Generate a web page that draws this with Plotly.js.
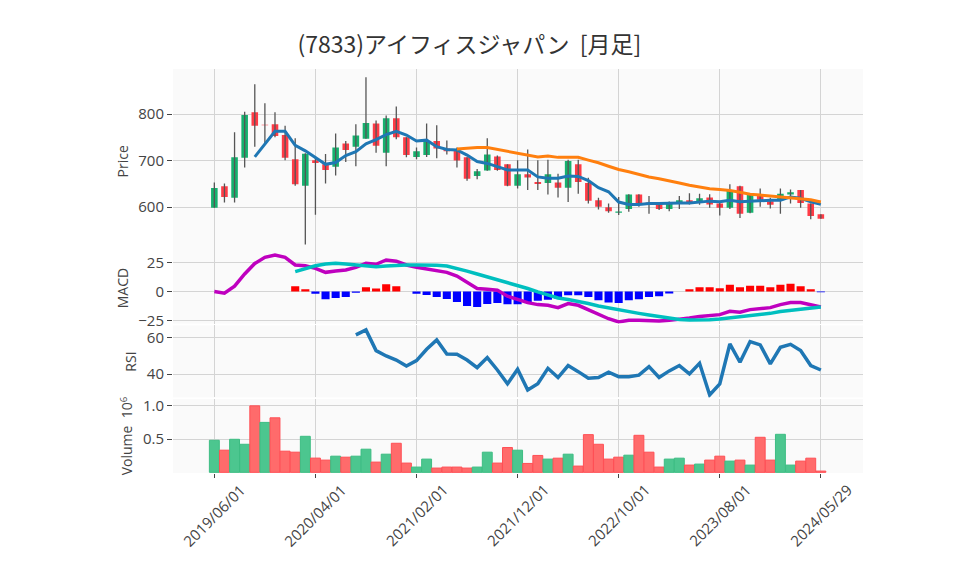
<!DOCTYPE html>
<html>
<head>
<meta charset="utf-8">
<script src="https://cdn.plot.ly/plotly-3.0.1.min.js"></script>
<style>html,body{margin:0;padding:0;background:#fff;}#chart{width:958px;height:575px;}</style>
</head>
<body>
<div id="chart"></div>
<script>
// ---- data ----
const tickIdx = [0, 10, 20, 30, 40, 50, 60];
const tickText = ['2019/06/01','2020/04/01','2021/02/01','2021/12/01','2022/10/01','2023/08/01','2024/05/29'];

const openP  = [599,645,620,706,804,777,778,755,703,646,701,692,687,737,730,747,780,717,791,750,708,712,742,726,723,707,667,679,709,692,646,671,654,652,653,642,692,652,615,600,588,596,627,610,606,596,609,615,612,621,608,599,645,588,628,613,615,627,637,608,585];
const highP  = [653,651,761,805,864,823,804,775,748,716,710,714,758,742,778,879,786,797,816,750,728,780,776,743,728,707,682,748,711,692,701,724,701,702,672,702,702,663,620,608,622,628,628,624,611,612,624,630,629,628,612,649,646,630,640,620,640,638,637,608,585];
const lowP   = [599,610,610,685,730,737,750,701,646,520,584,651,668,697,688,747,717,688,746,707,703,708,705,713,685,657,660,678,678,645,640,637,637,627,621,611,629,608,595,588,583,590,601,586,594,591,596,606,605,599,582,596,577,587,601,597,586,608,599,574,575];
const closeP = [641,622,707,798,775,776,753,706,649,715,695,680,728,723,754,781,732,791,750,712,720,742,726,720,700,661,677,713,680,646,671,664,650,671,642,699,654,614,601,591,590.5,627,608,606,596,611,615,609,619,606,599,635,586,628,616,605,629,632,609,581,575];

const ma5 = [null,null,null,null,708,736,763,763,733,721,707,692,696,711,719,736,745,756,763,755,742,744,730,724,723,712,698,694,687,680,680,680,665,662,662,667,666,657,642,633,611,606,606,608,608,609,609,609,611.5,613,611.5,615,611.5,613,615,615,615,622,619,611.5,606];
const ma25 = [null,null,null,null,null,null,null,null,null,null,null,null,null,null,null,null,null,null,null,null,null,null,null,null,725,727,728,728,724,719,715,711,708,710,707,707,707,701,695.5,688,681,676,670,665,661,657,652,647,643,639.5,638,636,632,628,626,624,622,621,619,616,611];

const macd = [0,-1.4,4.6,15,24,29.3,31.3,29.3,22.7,22,19.8,16.4,17.5,18.4,20.7,24.1,23.3,27,26,22.7,20.7,19.3,17.8,16.4,13.2,7.8,2.6,2,1.1,-4,-6.9,-9.5,-11.2,-11.8,-13.8,-10.3,-11.8,-15.5,-19.5,-23.3,-26.1,-24.7,-24.7,-25.3,-25.3,-24.7,-23.9,-22.7,-21.3,-20.4,-19.8,-17,-17.8,-15.5,-14.4,-13.8,-11.2,-9.5,-9.5,-11.2,-13.2];
const signal = [null,null,null,null,null,null,null,null,17,19.8,22,23.6,24.1,23.6,22.7,21.8,21.3,21.8,22.4,22.7,22.7,22.7,22.4,21.8,19.8,17.5,15,12.6,10.3,8,5.5,2.6,-0.3,-3.2,-5.5,-6.9,-8.3,-10.3,-12.4,-14.1,-15.8,-17.2,-18.7,-20.1,-21.6,-23,-23.9,-24.4,-24.4,-24.1,-23.6,-22.7,-21.8,-20.7,-19.5,-18.7,-17.2,-16.1,-14.9,-13.8,-13.2];
const hist = [null,null,null,null,null,null,null,null,4.6,2,-2,-6.6,-5.5,-4.6,-1.1,3.7,2.6,6.3,4.6,0,-2,-2.9,-4.6,-6.3,-8.9,-12.4,-13.2,-10.6,-9.8,-11,-11,-9.5,-8,-7,-6,-3.2,-3.2,-4.6,-7.5,-9.5,-9.8,-7.5,-6.6,-4.6,-4,-1.7,0,2,3.7,3.7,2.9,5.7,3.7,4.9,4.9,3.7,5.7,6.6,4.6,2,-0.6];

const rsi = [null,null,null,null,null,null,null,null,null,null,null,null,null,null,61.3,64,52.8,49.9,47.7,44.5,47.4,53.5,58.6,51,50.8,47.7,43.6,49,42.3,34.8,42.7,31.5,34.8,43.2,38.2,44.7,41.4,37.8,38.2,41.1,38.7,38.7,39.5,44.1,38.2,41.8,44.7,40.2,45.9,28.8,34.8,56.4,46.5,57.7,55.9,45.6,54.6,56.2,52.8,44.7,42.3];

const volume = [0.482,0.333,0.497,0.422,1.0,0.751,0.82,0.318,0.303,0.542,0.214,0.184,0.243,0.228,0.243,0.348,0.154,0.273,0.437,0.139,0.079,0.199,0.064,0.079,0.079,0.064,0.079,0.303,0.139,0.373,0.333,0.134,0.254,0.199,0.213,0.273,0.094,0.567,0.422,0.199,0.228,0.258,0.557,0.303,0.079,0.199,0.213,0.109,0.124,0.184,0.243,0.169,0.184,0.109,0.527,0.184,0.572,0.109,0.169,0.213,0.019];

// ---- build traces ----
const n = closeP.length;
const idx = closeP.map((_, i) => i);
const UP = '#16b16e', DOWN = '#ff3b46';
const VUP = '#4cc68f', VDOWN = '#ff6b6b', VUPL = '#3dbd83', VDOWNL = '#ff4f55';

const wx = [], wy = [];
for (let i = 0; i < n; i++) { wx.push(i, i, null); wy.push(lowP[i], highP[i], null); }

const bodyBase = idx.map(i => Math.min(openP[i], closeP[i]));
const bodyH = idx.map(i => Math.max(Math.abs(closeP[i] - openP[i]), 1.2));
const bodyCol = idx.map(i => closeP[i] >= openP[i] ? UP : DOWN);
const volUp = idx.map(i => i === 0 ? closeP[0] >= openP[0] : closeP[i] >= closeP[i-1]);

const traces = [
  {type:'scatter', mode:'lines', x:wx, y:wy, xaxis:'x', yaxis:'y', line:{color:'#555555', width:1.3}, hoverinfo:'skip', showlegend:false},
  {type:'bar', x:idx, y:bodyH, base:bodyBase, width:0.65, xaxis:'x', yaxis:'y', marker:{color:bodyCol, line:{width:0}}, showlegend:false},
  {type:'scatter', mode:'lines', x:idx, y:ma5, xaxis:'x', yaxis:'y', line:{color:'#1f77b4', width:3}, showlegend:false},
  {type:'scatter', mode:'lines', x:idx, y:ma25, xaxis:'x', yaxis:'y', line:{color:'#ff7f0e', width:3}, showlegend:false},

  {type:'bar', x:idx, y:hist, width:0.8, xaxis:'x2', yaxis:'y2', marker:{color:hist.map(v => v === null ? '#fff' : (v >= 0 ? '#ff0000' : '#0000ff')), line:{width:0}}, showlegend:false},
  {type:'scatter', mode:'lines', x:idx, y:macd, xaxis:'x2', yaxis:'y2', line:{color:'#bf00bf', width:3.5}, showlegend:false},
  {type:'scatter', mode:'lines', x:idx, y:signal, xaxis:'x2', yaxis:'y2', line:{color:'#00bfbf', width:3.5}, showlegend:false},

  {type:'scatter', mode:'lines', x:idx, y:rsi, xaxis:'x3', yaxis:'y3', line:{color:'#1f77b4', width:3.5}, showlegend:false},

  {type:'bar', x:idx, y:volume, width:0.98, xaxis:'x4', yaxis:'y4', marker:{color:volUp.map(u => u ? VUP : VDOWN), line:{color:volUp.map(u => u ? VUPL : VDOWNL), width:1}}, showlegend:false}
];

const GRID = '#d4d4d4';
const BG = '#fafafa';
const xr = [-4.09, 64.17];
const FONT = 'Open Sans, DejaVu Sans, sans-serif';
const tf = {family:FONT, size:15, color:'#444'};
const ttf = {family:FONT, size:14, color:'#444'};

function xa(anchor, bottom) {
  return {anchor:anchor, domain:[0,1], range:xr, tickvals:tickIdx, ticktext:tickText, showticklabels:false,
    ticks: bottom ? 'outside' : '', ticklen:4, tickcolor:'#444', tickfont:tf,
    showgrid:true, gridcolor:GRID, zeroline:false, showline:false, matches: anchor === 'y' ? undefined : 'x'};
}
function ya(anchor, dom, rng, tv, tt, title) {
  return {anchor:anchor, domain:dom, range:rng, tickvals:tv, ticktext:tt, ticks:'outside', ticklen:5, tickcolor:'#444',
    tickfont:tf, showgrid:true, gridcolor:GRID, zeroline:false, showline:false,
    title:{text:title, font:ttf, standoff:6}};
}

// rotated date labels centred on their ticks
const dateAnn = tickIdx.map((v, k) => ({
  x:v, xref:'x4', y:-0.104, yref:'paper', text:tickText[k], textangle:-45,
  showarrow:false, xanchor:'center', yanchor:'middle', font:tf
}));

const layout = {
  width:958, height:575,
  margin:{l:173, r:95, t:69, b:102},
  paper_bgcolor:'#ffffff', plot_bgcolor:BG,
  showlegend:false, hovermode:false, barmode:'overlay',
  title:{text:'(7833)アイフィスジャパン  [月足]', x:0.49, xanchor:'center', y:0.922, yanchor:'middle',
    font:{family:'Noto Sans CJK JP, sans-serif', size:23, color:'#333'}},
  xaxis: xa('y', false),
  xaxis2: xa('y2', false),
  xaxis3: xa('y3', false),
  xaxis4: xa('y4', true),
  yaxis: ya('x', [0.5433, 1], [500.5, 896.8], [600,700,800], ['600','700','800'], 'Price'),
  yaxis2: ya('x2', [0.3700, 0.5458], [-27.4, 33.4], [-25,0,25], ['−25','0','25'], 'MACD'),
  yaxis3: ya('x3', [0.1869, 0.3651], [27.4, 66.4], [40,60], ['40','60'], 'RSI'),
  yaxis4: ya('x4', [0, 0.1832], [-0.01, 1.103], [0.5,1.0], ['0.5','1.0'], 'Volume  10<sup>6</sup>'),
  annotations: dateAnn
};

Plotly.newPlot('chart', traces, layout, {staticPlot:true, displayModeBar:false});
</script>
</body>
</html>
